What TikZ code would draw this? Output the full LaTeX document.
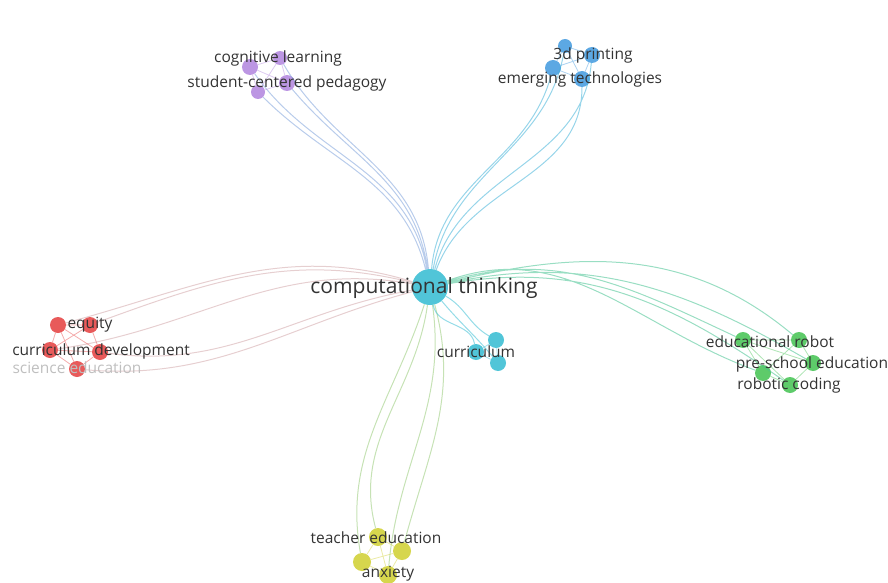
\documentclass[tikz,border=0pt]{standalone}
\usepackage{fontspec}
\setmainfont{Open Sans}
\definecolor{vcyan}{HTML}{3EBFD4}
\definecolor{vpurple}{HTML}{B58BE0}
\definecolor{vblue}{HTML}{4A9EE0}
\definecolor{vred}{HTML}{E64848}
\definecolor{vgreen}{HTML}{4CC55A}
\definecolor{vyellow}{HTML}{D2D23A}
\definecolor{txtgray}{HTML}{333333}

\begin{document}
\begin{tikzpicture}[
  x=1pt, y=1pt,
  bub/.style={circle, inner sep=0pt, minimum size=16pt, fill opacity=.9},
  lab/.style={text=txtgray, inner sep=0pt, font=\fontsize{15.5}{18}\selectfont},
  edge/.style={line width=1pt, opacity=.55},
  pedge/.style={edge, draw=vpurple!55!vcyan},
  bedge/.style={edge, draw=vblue!35!vcyan},
  redge/.style={edge, draw=vred!70!vcyan!60!white},
  gedge/.style={edge, draw=vgreen!55!vcyan},
  yedge/.style={edge, draw=vyellow!60!vcyan},
  cedge/.style={edge, draw=vcyan},
  inner/.style={line width=.8pt, opacity=.45}
]
  \useasboundingbox (0,0) rectangle (888,-583);

  % bubbles
  \node[bub, fill=vcyan, minimum size=36pt] (ct) at (430,-287) {};

  \node[bub, fill=vpurple] (p1) at (250,-67) {};
  \node[bub, fill=vpurple, minimum size=14pt] (p2) at (280,-58) {};
  \node[bub, fill=vpurple] (p3) at (287,-83) {};
  \node[bub, fill=vpurple, minimum size=14pt] (p4) at (258,-92) {};

  \node[bub, fill=vblue, minimum size=14pt] (b1) at (565,-46) {};
  \node[bub, fill=vblue] (b2) at (592,-55) {};
  \node[bub, fill=vblue] (b3) at (553,-68) {};
  \node[bub, fill=vblue] (b4) at (582,-79) {};

  \node[bub, fill=vred] (r1) at (58,-325) {};
  \node[bub, fill=vred] (r2) at (90,-325) {};
  \node[bub, fill=vred] (r3) at (50,-350) {};
  \node[bub, fill=vred] (r4) at (100,-352) {};
  \node[bub, fill=vred] (r5) at (77,-369) {};

  \node[bub, fill=vcyan] (c1) at (496,-340) {};
  \node[bub, fill=vcyan] (c2) at (476,-352) {};
  \node[bub, fill=vcyan] (c3) at (498,-363) {};

  \node[bub, fill=vgreen] (g1) at (743,-340) {};
  \node[bub, fill=vgreen] (g2) at (799,-340) {};
  \node[bub, fill=vgreen] (g3) at (813,-363) {};
  \node[bub, fill=vgreen] (g4) at (763,-373) {};
  \node[bub, fill=vgreen] (g5) at (790,-385) {};

  \node[bub, fill=vyellow, minimum size=18pt] (y1) at (378,-537) {};
  \node[bub, fill=vyellow, minimum size=18pt] (y2) at (402,-551) {};
  \node[bub, fill=vyellow, minimum size=18pt] (y3) at (362,-562) {};
  \node[bub, fill=vyellow, minimum size=18pt] (y4) at (388,-575) {};

  % links to the centre
  \draw[pedge] (ct) to[out=100,in=-55] (p1) (ct) to[out=95,in=-60] (p2)
               (ct) to[out=98,in=-50] (p3) (ct) to[out=104,in=-45] (p4);
  \draw[bedge] (ct) to[out=80,in=-100] (b1) (ct) to[out=75,in=-95] (b2)
               (ct) to[out=85,in=-105] (b3) (ct) to[out=70,in=-90] (b4);
  \draw[redge] (ct) to[out=163,in=15] (r1) (ct) to[out=166,in=20] (r2)
               (ct) to[out=170,in=8] (r3) (ct) to[out=190,in=-8] (r4)
               (ct) to[out=195,in=-5] (r5);
  \draw[gedge] (ct) to[out=17,in=155] (g1) (ct) to[out=14,in=140] (g2)
               (ct) to[out=12,in=150] (g3) (ct) to[out=20,in=160] (g4)
               (ct) to[out=10,in=145] (g5);
  \draw[yedge] (ct) to[out=262,in=105] (y1) (ct) to[out=285,in=75] (y2)
               (ct) to[out=252,in=100] (y3) (ct) to[out=278,in=85] (y4);
  \draw[cedge] (ct) to[out=-30,in=150] (c1) (ct) to[out=-80,in=100] (c2)
               (ct) to[out=-50,in=130] (c3);

  % links inside the clusters
  \draw[inner, draw=vpurple] (p1) -- (p2) -- (p3) -- (p4) -- (p1) -- (p3) (p2) -- (p4);
  \draw[inner, draw=vblue] (b1) -- (b2) -- (b4) -- (b3) -- (b1) -- (b4) (b2) -- (b3);
  \draw[inner, draw=vred] (r1) -- (r2) -- (r4) -- (r5) -- (r3) -- (r1) -- (r4) (r2) -- (r3) (r3) -- (r4) (r1) -- (r5);
  \draw[inner, draw=vcyan] (c1) -- (c2) -- (c3) -- (c1);
  \draw[inner, draw=vgreen] (g1) -- (g2) -- (g3) -- (g5) -- (g4) -- (g1) -- (g3) (g2) -- (g4) (g1) -- (g5);
  \draw[inner, draw=vyellow] (y1) -- (y2) -- (y4) -- (y3) -- (y1) -- (y4) (y2) -- (y3);

  % labels
  \node[lab, font=\fontsize{21}{24}\selectfont] (lct) at (424,-288) {computational thinking};
  \node[lab] (lcog) at (278,-58) {cognitive learning};
  \node[lab] (lscp) at (287,-83) {student-centered pedagogy};
  \node[lab] (l3d) at (593,-55) {3d printing};
  \node[lab] (lemt) at (580,-79) {emerging technologies};
  \node[lab] (leq) at (90,-325) {equity};
  \node[lab] (lcud) at (101,-351) {curriculum development};
  \node[lab, text=black!25] (lsce) at (77,-368) {science education};
  \node[lab] (lcur) at (476,-352) {curriculum};
  \node[lab] (lrob) at (770,-342) {educational robot};
  \node[lab] (lpse) at (812,-364) {pre-school education};
  \node[lab] (lcod) at (789,-385) {robotic coding};
  \node[lab] (lted) at (376,-538) {teacher education};
  \node[lab] (lanx) at (388,-574) {anxiety};
\end{tikzpicture}
\end{document}
